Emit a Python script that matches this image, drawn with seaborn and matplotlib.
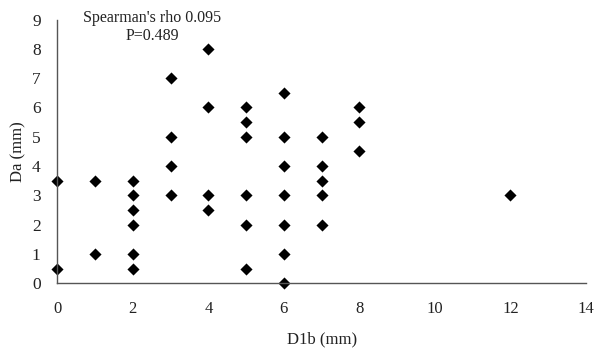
import matplotlib
matplotlib.use("Agg")
import matplotlib.pyplot as plt
import seaborn as sns
import pandas as pd

d1b = [0, 0,
       1, 1,
       2, 2, 2, 2, 2, 2,
       3, 3, 3, 3,
       4, 4, 4, 4,
       5, 5, 5, 5, 5, 5,
       6, 6, 6, 6, 6, 6, 6,
       7, 7, 7, 7, 7,
       8, 8, 8,
       12]
da = [3.5, 0.5,
      3.5, 1,
      3.5, 3, 2.5, 2, 1, 0.5,
      7, 5, 4, 3,
      8, 6, 3, 2.5,
      6, 5.5, 5, 3, 2, 0.5,
      6.5, 5, 4, 3, 2, 1, 0,
      5, 4, 3.5, 3, 2,
      6, 5.5, 4.5,
      3]
x_ticks = [0, 2, 4, 6, 8, 10, 12, 14]
y_ticks = [0, 1, 2, 3, 4, 5, 6, 7, 8, 9]

df = pd.DataFrame({"D1b (mm)": d1b, "Da (mm)": da})

sns.set_style("white")
plt.rcParams["font.family"] = ["Liberation Serif", "DejaVu Serif"]

fig = plt.figure(figsize=(5.94, 3.5), dpi=100)
ax = fig.add_axes([0.0965, 0.1906, 0.89, 0.7535])
sns.scatterplot(data=df, x="D1b (mm)", y="Da (mm)", marker="D", s=38,
                color="black", edgecolor="black", linewidth=0, ax=ax, clip_on=False)
ax.set_xlim(0, 14)
ax.set_ylim(0, 9)
ax.set_xticks(x_ticks)
ax.set_yticks(y_ticks)
ax.tick_params(axis="x", length=0, pad=13, labelsize=12, colors="#222222")
ax.tick_params(axis="y", length=0, pad=12, labelsize=12.5, colors="#222222")
for s in ["top", "right"]:
    ax.spines[s].set_visible(False)
for s in ["left", "bottom"]:
    ax.spines[s].set_color("#555555")
    ax.spines[s].set_linewidth(1.0)
ax.set_xlabel("D1b (mm)", fontsize=12, labelpad=10, color="#222222")
ax.set_ylabel("Da (mm)", fontsize=12, labelpad=4, color="#222222")
ax.text(0.18, 0.972, "Spearman's rho 0.095\nP=0.489", transform=ax.transAxes,
        ha="center", va="center", fontsize=11.5, linespacing=1.12, color="#222222")
fig.savefig("out.png", dpi=100)
